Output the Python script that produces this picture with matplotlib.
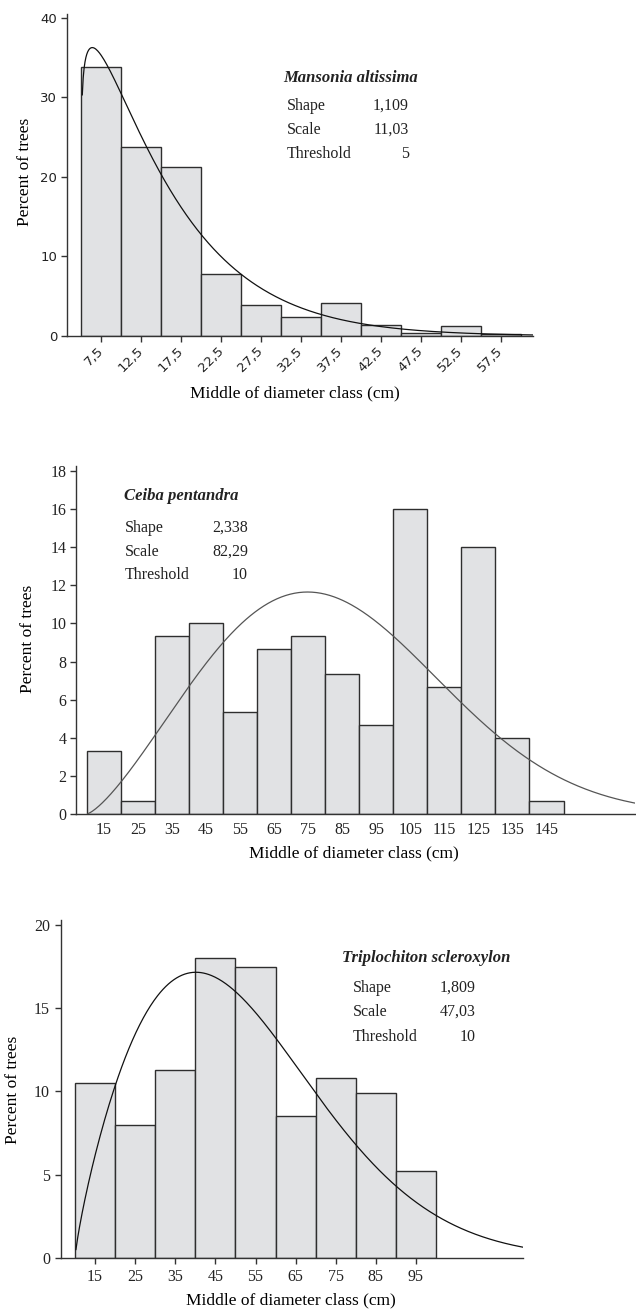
import numpy as np
import matplotlib
matplotlib.use('Agg')
import matplotlib.pyplot as plt

W, H = 636, 1309
SERIF = 'Liberation Serif'

# Mansonia altissima (5 cm classes)
mansonia_mid = [7.5, 12.5, 17.5, 22.5, 27.5, 32.5, 37.5, 42.5, 47.5, 52.5, 57.5]
mansonia_pct = [33.8, 23.8, 21.3, 7.8, 3.9, 2.4, 4.2, 1.4, 0.4, 1.2, 0.2]
mansonia_ticks = ['7,5', '12,5', '17,5', '22,5', '27,5', '32,5', '37,5', '42,5', '47,5', '52,5', '57,5']
mansonia_fit = [1.109, 11.03, 5]          # shape, scale, threshold
mansonia_fit_txt = ['1,109', '11,03', '5']

# Ceiba pentandra (10 cm classes)
ceiba_mid = [15, 25, 35, 45, 55, 65, 75, 85, 95, 105, 115, 125, 135, 145]
ceiba_pct = [3.33, 0.67, 9.33, 10.0, 5.33, 8.67, 9.33, 7.33, 4.67, 16.0, 6.67, 14.0, 4.0, 0.67]
ceiba_fit = [2.338, 82.29, 10]
ceiba_fit_txt = ['2,338', '82,29', '10']

# Triplochiton scleroxylon (10 cm classes)
triplo_mid = [15, 25, 35, 45, 55, 65, 75, 85, 95]
triplo_pct = [10.5, 8.0, 11.3, 18.0, 17.5, 8.5, 10.8, 9.9, 5.2]
triplo_fit = [1.809, 47.03, 10]
triplo_fit_txt = ['1,809', '47,03', '10']

row_names = ['Shape', 'Scale', 'Threshold']


def weibull_pct(x, shape, scale, thr, width):
    # 3-parameter weibull density, scaled to percent per class
    z = (x - thr) / scale
    return 100 * width * shape / scale * z ** (shape - 1) * np.exp(-z ** shape)


fig = plt.figure(figsize=(W / 100, H / 100), dpi=100)


def add_ax(left, top, right, bottom):
    return fig.add_axes([left / W, 1 - bottom / H, (right - left) / W, (bottom - top) / H])


def ftext(x, y, s, **kw):
    fig.text(x / W, 1 - y / H, s, **kw)


def panel(ax, mids, pct, width, fit, xlim, ylim, curve_color):
    ax.bar(mids, pct, width=width, color='#e1e2e4', edgecolor='#2e2e2e', linewidth=1.0, zorder=2)
    x = np.linspace(fit[2], xlim[1], 500)[1:]
    ax.plot(x, weibull_pct(x, fit[0], fit[1], fit[2], width), color=curve_color, lw=0.9, zorder=3)
    ax.set_xlim(xlim)
    ax.set_ylim(ylim)
    for s in ['top', 'right']:
        ax.spines[s].set_visible(False)
    for s in ['left', 'bottom']:
        ax.spines[s].set_linewidth(1.0)
        ax.spines[s].set_color('#333333')
    ax.tick_params(color='#333333', width=1.0)


def annot(tx, ty, title, lx, vx, ys, vals):
    ftext(tx, ty, title, family=SERIF, fontsize=12, fontweight='bold', fontstyle='italic',
          ha='left', va='center', color='#222222')
    for name, v, y in zip(row_names, vals, ys):
        ftext(lx, y, name, family=SERIF, fontsize=11.5, ha='left', va='center', color='#222222')
        ftext(vx, y, v, family=SERIF, fontsize=11.5, ha='right', va='center', color='#222222')


# --- panel 1
ax1 = add_ax(67, 14, 533, 336)
panel(ax1, mansonia_mid, mansonia_pct, 5, mansonia_fit, (3.2, 61.5), (0, 40.5), '#111111')
ax1.set_yticks([0, 10, 20, 30, 40])
ax1.set_xticks(mansonia_mid)
ax1.set_xticklabels(mansonia_ticks, rotation=45, ha='right', va='center', rotation_mode='anchor')
ax1.tick_params(axis='both', length=4, labelsize=9.5, labelcolor='#222222')
ax1.tick_params(axis='x', pad=5)
ax1.tick_params(axis='y', pad=3)
for lab in ax1.get_xticklabels() + ax1.get_yticklabels():
    lab.set_family('DejaVu Sans')
annot(283, 78, 'Mansonia altissima', 287, 409, [106, 130, 154], mansonia_fit_txt)
ftext(25, 172, 'Percent of trees', family=SERIF, fontsize=12.5, rotation=90, ha='center', va='center')
ftext(295, 393, 'Middle of diameter class (cm)', family=SERIF, fontsize=12.5, ha='center', va='center')

# --- panel 2
ax2 = add_ax(76, 466, 635, 814)
panel(ax2, ceiba_mid, ceiba_pct, 10, ceiba_fit, (6.8, 171), (0, 18.26), '#555555')
ax2.set_yticks(range(0, 19, 2))
ax2.set_xticks(ceiba_mid)
ax2.tick_params(axis='y', length=4, pad=3)
ax2.tick_params(axis='x', length=0, pad=6)
ax2.tick_params(labelsize=11.5, labelcolor='#222222')
for lab in ax2.get_xticklabels() + ax2.get_yticklabels():
    lab.set_family(SERIF)
annot(124, 496, 'Ceiba pentandra', 125, 248, [528, 552, 575], ceiba_fit_txt)
ftext(28, 639, 'Percent of trees', family=SERIF, fontsize=12.5, rotation=90, ha='center', va='center')
ftext(354, 853, 'Middle of diameter class (cm)', family=SERIF, fontsize=12.5, ha='center', va='center')

# --- panel 3
ax3 = add_ax(61, 920, 523, 1258)
panel(ax3, triplo_mid, triplo_pct, 10, triplo_fit, (6.5, 121.7), (0, 20.3), '#111111')
ax3.set_yticks([0, 5, 10, 15, 20])
ax3.set_xticks(triplo_mid)
ax3.tick_params(axis='both', length=4, labelsize=11.5, labelcolor='#222222')
ax3.tick_params(axis='x', pad=4)
ax3.tick_params(axis='y', pad=4)
for lab in ax3.get_xticklabels() + ax3.get_yticklabels():
    lab.set_family(SERIF)
annot(342, 958, 'Triplochiton scleroxylon', 353, 476, [988, 1012, 1037], triplo_fit_txt)
ftext(13, 1090, 'Percent of trees', family=SERIF, fontsize=12.5, rotation=90, ha='center', va='center')
ftext(291, 1300, 'Middle of diameter class (cm)', family=SERIF, fontsize=12.5, ha='center', va='center')

fig.savefig('out.png', dpi=100)
